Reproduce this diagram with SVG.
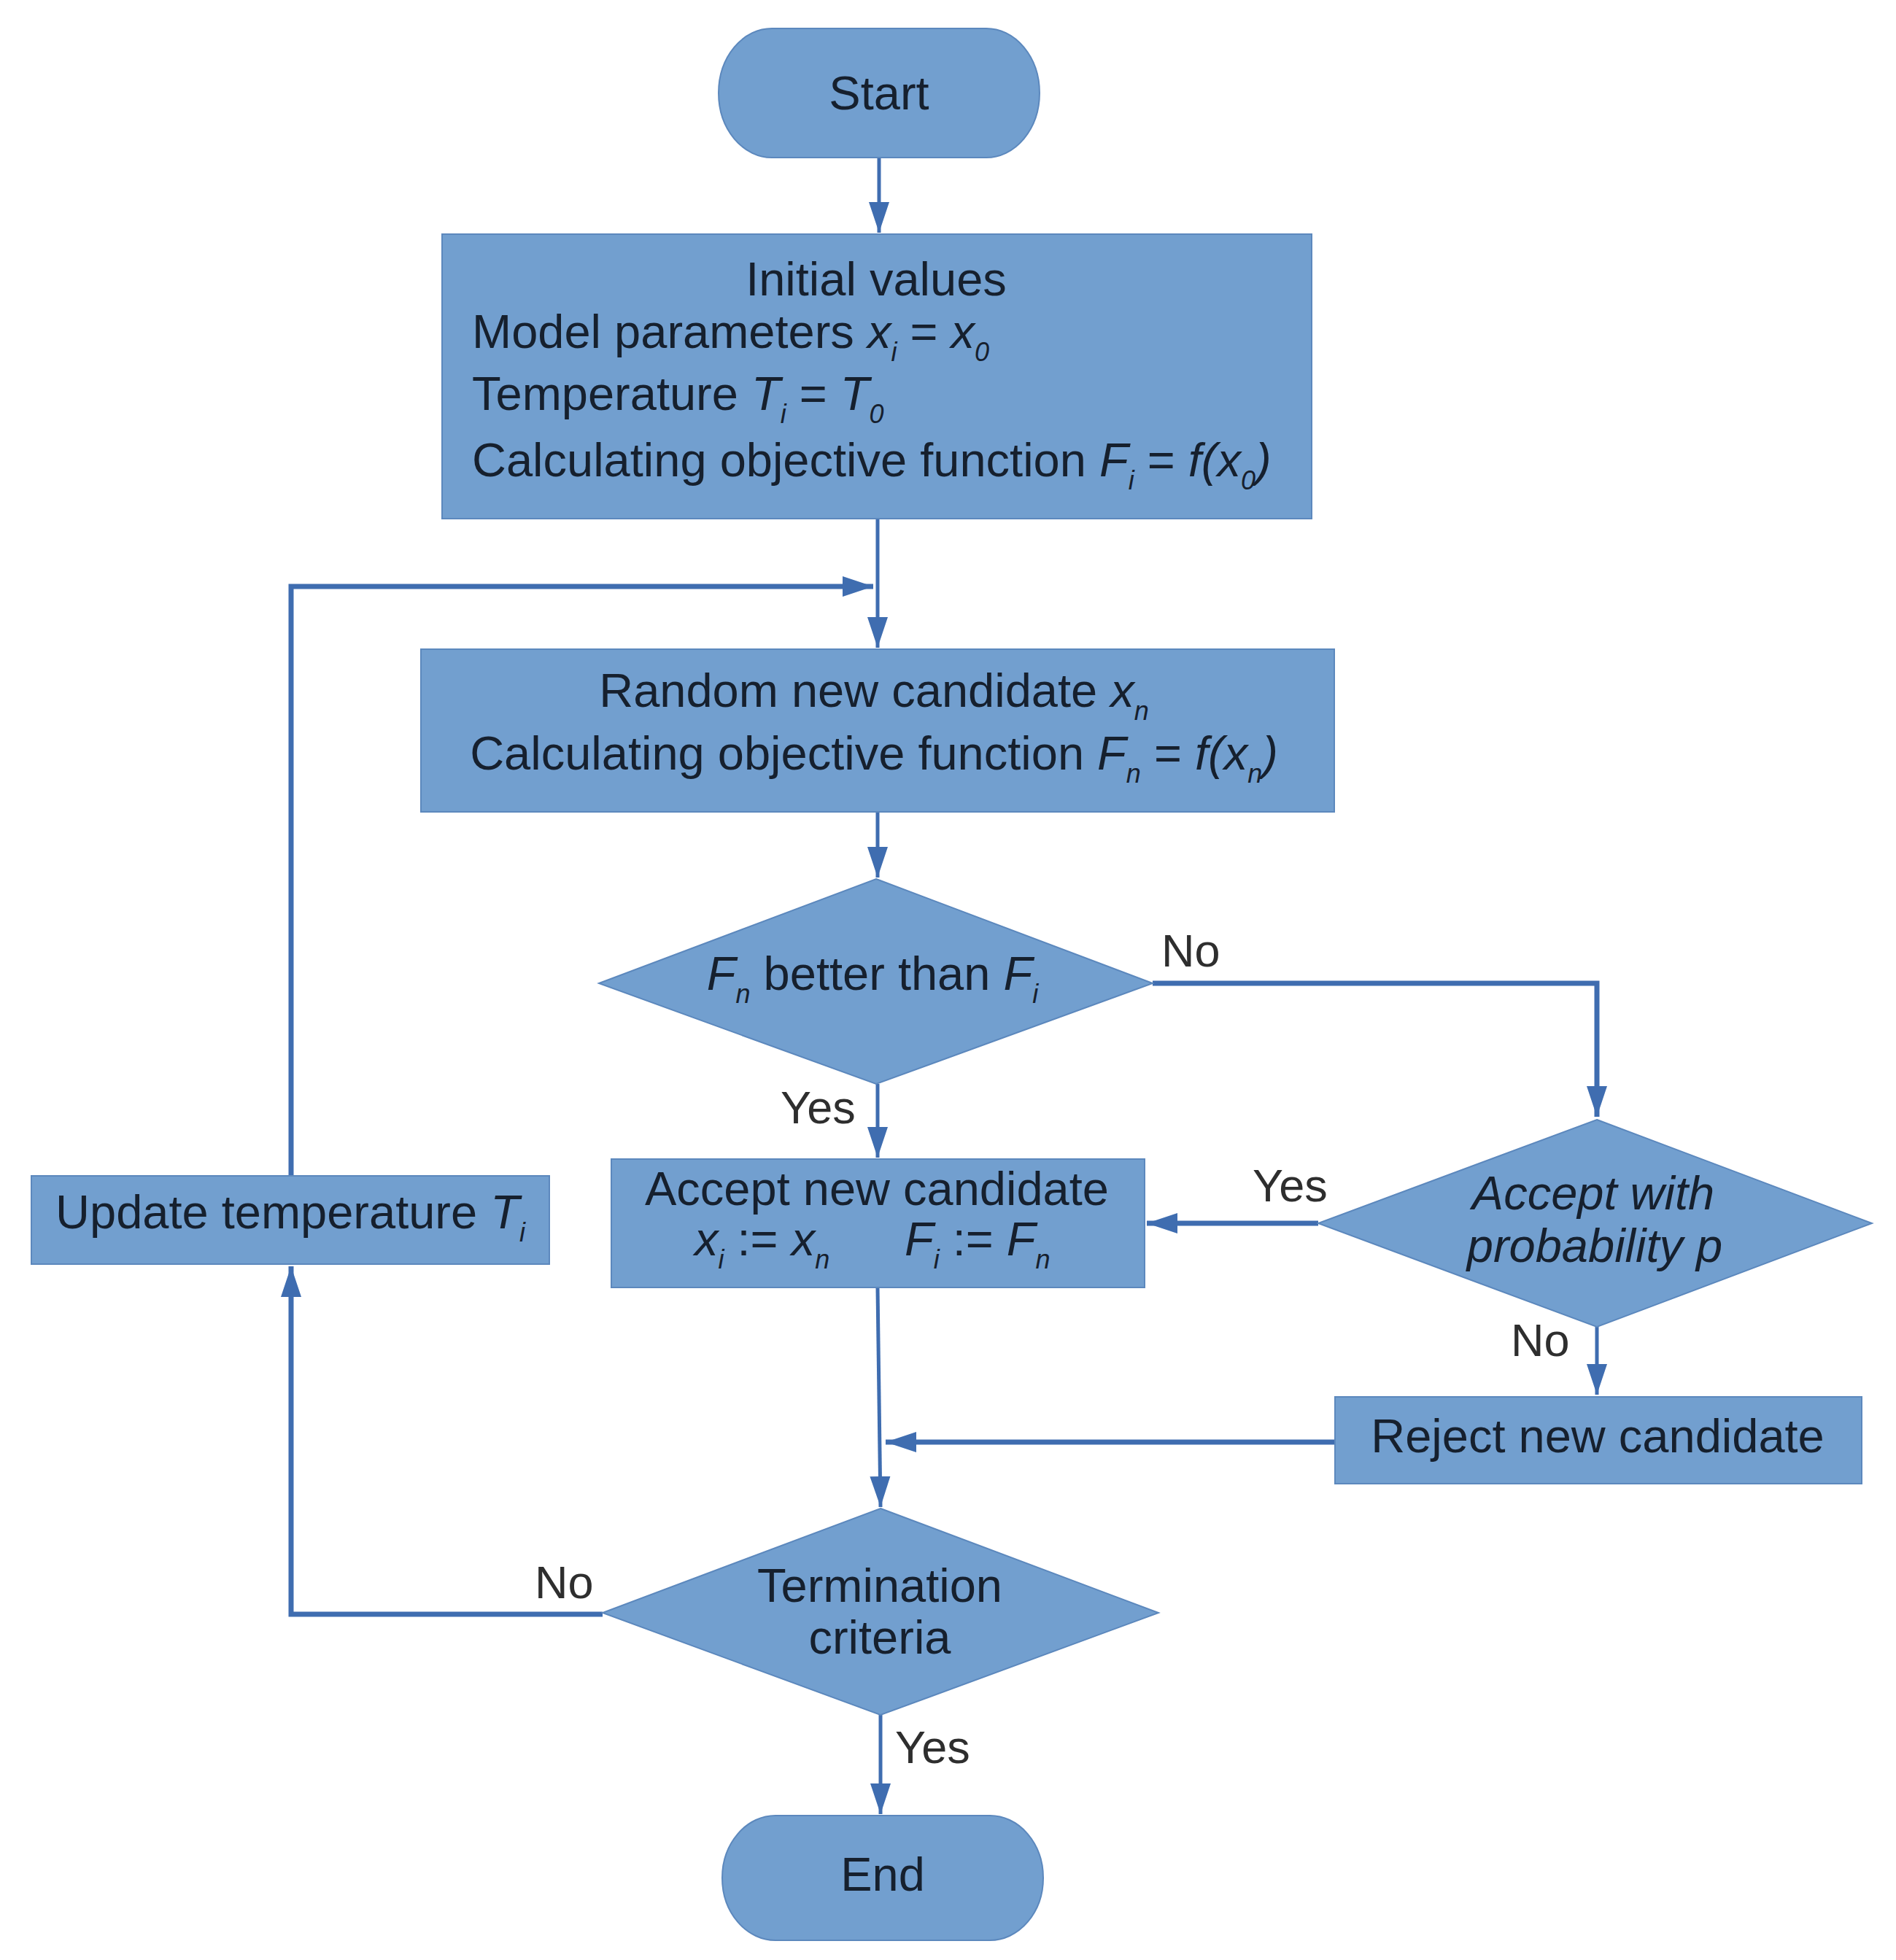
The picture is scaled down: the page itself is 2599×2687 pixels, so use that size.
<svg xmlns="http://www.w3.org/2000/svg" width="2599" height="2687" viewBox="0 0 2599 2687">
<style>
.n{fill:#729fcf;stroke:#5c88bd;stroke-width:2}
.t{font-family:"Liberation Sans",Arial,sans-serif;font-size:65px;fill:#16202e}
.m{text-anchor:middle}
.i{font-style:italic}
.s{font-size:36px;font-style:italic}
.lb{font-family:"Liberation Sans",Arial,sans-serif;font-size:63px;fill:#2e2e2e}
.c{fill:none;stroke:#3f6db0;stroke-width:5}
.w{stroke-width:7}
</style>
<defs>
<marker id="ah" markerUnits="userSpaceOnUse" markerWidth="44" markerHeight="30" refX="42" refY="15" orient="auto">
<path d="M0,1 L42,15 L0,29 Z" fill="#3f6db0"/>
</marker>
</defs>
<rect width="2599" height="2687" fill="#ffffff"/>
<g id="connectors">
<path class="c" d="M1205,216 V319" marker-end="url(#ah)"/>
<path class="c" d="M1203,711 V888" marker-end="url(#ah)"/>
<path class="c w" d="M399,1612 V804 H1197" marker-end="url(#ah)"/>
<path class="c" d="M1203,1113 V1203" marker-end="url(#ah)"/>
<path class="c w" d="M1580,1348 H2189 V1531" marker-end="url(#ah)"/>
<path class="c" d="M1203,1486 V1587" marker-end="url(#ah)"/>
<path class="c w" d="M1807,1677 H1572" marker-end="url(#ah)"/>
<path class="c" d="M2189,1819 V1912" marker-end="url(#ah)"/>
<path class="c w" d="M1830,1977 H1214" marker-end="url(#ah)"/>
<path class="c" d="M1203,1765 L1207,2066" marker-end="url(#ah)"/>
<path class="c w" d="M826,2213 H399 V1736" marker-end="url(#ah)"/>
<path class="c" d="M1207,2351 V2487" marker-end="url(#ah)"/>
<text class="lb" x="1592" y="1325">No</text>
<text class="lb" x="1070" y="1540">Yes</text>
<text class="lb" x="1717" y="1647">Yes</text>
<text class="lb" x="2071" y="1859">No</text>
<text class="lb" x="733" y="2191">No</text>
<text class="lb" x="1227" y="2417">Yes</text>
</g>
<g id="start">
<path class="n" d="M1058,39 H1352 A73,88.5 0 0 1 1352,216 H1058 A73,88.5 0 0 1 1058,39 Z"/>
<text class="t m" x="1205" y="150">Start</text>
</g>
<g id="initial">
<rect class="n" x="606" y="321" width="1192" height="390"/>
<text class="t m" x="1201" y="405">Initial values</text>
<text class="t" x="647" y="477">Model parameters <tspan class="i">x</tspan><tspan class="s" dy="18">i</tspan><tspan dy="-18"> = </tspan><tspan class="i">x</tspan><tspan class="s" dy="18">0</tspan></text>
<text class="t" x="647" y="562">Temperature <tspan class="i">T</tspan><tspan class="s" dy="18">i</tspan><tspan dy="-18"> = </tspan><tspan class="i">T</tspan><tspan class="s" dy="18">0</tspan></text>
<text class="t" x="647" y="653">Calculating objective function <tspan class="i">F</tspan><tspan class="s" dy="18">i</tspan><tspan dy="-18"> = </tspan><tspan class="i">f(x</tspan><tspan class="s" dy="18">0</tspan><tspan class="i" dy="-18">)</tspan></text>
</g>
<g id="random">
<rect class="n" x="577" y="890" width="1252" height="223"/>
<text class="t m" x="1198" y="969">Random new candidate <tspan class="i">x</tspan><tspan class="s" dy="18">n</tspan></text>
<text class="t m" x="1198" y="1055">Calculating objective function <tspan class="i">F</tspan><tspan class="s" dy="18">n</tspan><tspan dy="-18"> = </tspan><tspan class="i">f(x</tspan><tspan class="s" dy="18">n</tspan><tspan class="i" dy="-18">)</tspan></text>
</g>
<g id="better">
<path class="n" d="M1201,1205 L1580,1348 L1201,1486 L821,1348 Z"/>
<text class="t m" x="1196" y="1357"><tspan class="i">F</tspan><tspan class="s" dy="18">n</tspan><tspan dy="-18"> better than </tspan><tspan class="i">F</tspan><tspan class="s" dy="18">i</tspan></text>
</g>
<g id="accept">
<rect class="n" x="838" y="1589" width="731" height="176"/>
<text class="t m" x="1202" y="1652">Accept new candidate</text>
<text class="t" x="952" y="1721"><tspan class="i">x</tspan><tspan class="s" dy="18">i</tspan><tspan dy="-18"> := </tspan><tspan class="i">x</tspan><tspan class="s" dy="18">n</tspan></text>
<text class="t" x="1240" y="1721"><tspan class="i">F</tspan><tspan class="s" dy="18">i</tspan><tspan dy="-18"> := </tspan><tspan class="i">F</tspan><tspan class="s" dy="18">n</tspan></text>
</g>
<g id="probability">
<path class="n" d="M2189,1535 L2566,1677 L2189,1819 L1807,1677 Z"/>
<text class="t m i" x="2184" y="1658">Accept with</text>
<text class="t m i" x="2186" y="1730">probability p</text>
</g>
<g id="reject">
<rect class="n" x="1830" y="1915" width="722" height="119"/>
<text class="t m" x="2190" y="1991">Reject new candidate</text>
</g>
<g id="update">
<rect class="n" x="43" y="1612" width="710" height="121"/>
<text class="t m" x="398" y="1684">Update temperature <tspan class="i">T</tspan><tspan class="s" dy="18">i</tspan></text>
</g>
<g id="termination">
<path class="n" d="M1207,2068 L1588,2211 L1207,2351 L826,2211 Z"/>
<text class="t m" x="1206" y="2196">Termination</text>
<text class="t m" x="1206" y="2267">criteria</text>
</g>
<g id="end">
<path class="n" d="M1063,2489 H1357 A73,85.5 0 0 1 1357,2660 H1063 A73,85.5 0 0 1 1063,2489 Z"/>
<text class="t m" x="1210" y="2592">End</text>
</g>
</svg>
